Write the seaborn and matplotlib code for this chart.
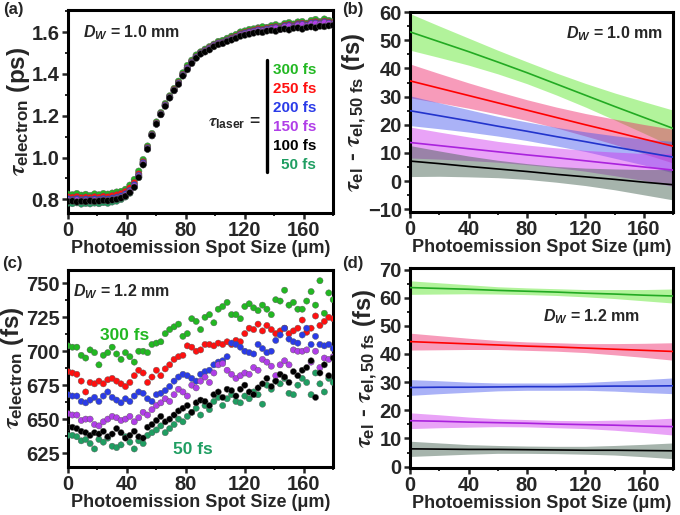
import matplotlib
matplotlib.use("Agg")
import matplotlib.pyplot as plt
import numpy as np
import pandas as pd
import seaborn as sns
from matplotlib.ticker import MultipleLocator, FormatStrFormatter

# ---------------- data ----------------
spot_um = list(range(0, 181, 3))          # photoemission spot size (um)
laser_labels = ["300 fs", "250 fs", "200 fs", "150 fs", "100 fs", "50 fs"]
laser_colors = ["#22b822", "#ff1010", "#2a3be8", "#b03ee8", "#000000", "#1f9e62"]
band_colors = ["#55e622", "#ee2266", "#4455ee", "#d033ee", "#3a5a48", None]
line_colors = ["#22aa22", "#ff0000", "#2233cc", "#aa22dd", "#000000", None]

# panel (a): tau_electron (ps), D_W = 1.0 mm
a_300 = [0.825,0.822,0.828,0.820,0.824,0.818,0.826,0.822,0.828,0.825,0.830,0.835,0.838,0.848,0.868,0.895,0.935,0.990,1.055,1.115,
         1.170,1.215,1.258,1.295,1.330,1.365,1.405,1.440,1.465,1.490,1.505,1.518,1.530,1.542,1.555,1.560,1.570,1.580,1.588,1.600,
         1.605,1.612,1.615,1.620,1.625,1.622,1.630,1.635,1.628,1.640,1.645,1.638,1.648,1.650,1.642,1.655,1.660,1.650,1.662,1.655,1.650]
a_250 = [0.812,0.810,0.814,0.808,0.811,0.809,0.813,0.810,0.815,0.812,0.818,0.822,0.828,0.838,0.855,0.880,0.922,0.980,1.048,1.110,
         1.165,1.210,1.252,1.290,1.325,1.358,1.398,1.430,1.458,1.482,1.500,1.512,1.525,1.538,1.548,1.552,1.562,1.572,1.580,1.592,
         1.598,1.604,1.608,1.615,1.612,1.618,1.622,1.626,1.620,1.632,1.636,1.630,1.640,1.642,1.636,1.646,1.650,1.644,1.652,1.648,1.645]
a_200 = [0.802,0.800,0.803,0.798,0.801,0.799,0.802,0.800,0.804,0.801,0.806,0.810,0.816,0.826,0.843,0.870,0.915,0.975,1.045,1.108,
         1.162,1.208,1.250,1.288,1.322,1.355,1.395,1.428,1.455,1.480,1.498,1.510,1.522,1.536,1.546,1.550,1.560,1.568,1.576,1.588,
         1.594,1.600,1.604,1.610,1.608,1.614,1.618,1.622,1.616,1.628,1.632,1.626,1.636,1.638,1.632,1.642,1.645,1.640,1.648,1.644,1.640]
a_150 = [0.796,0.794,0.797,0.793,0.795,0.792,0.796,0.794,0.798,0.795,0.800,0.804,0.810,0.820,0.838,0.864,0.910,0.970,1.042,1.106,
         1.160,1.206,1.248,1.286,1.320,1.352,1.392,1.425,1.452,1.478,1.496,1.508,1.520,1.534,1.544,1.548,1.558,1.566,1.574,1.585,
         1.590,1.596,1.600,1.606,1.604,1.610,1.614,1.618,1.612,1.624,1.628,1.622,1.632,1.634,1.628,1.638,1.640,1.636,1.644,1.640,1.636]
a_100 = [0.790,0.792,0.788,0.791,0.789,0.793,0.790,0.792,0.795,0.793,0.797,0.800,0.806,0.815,0.832,0.858,0.905,0.965,1.040,1.105,
         1.160,1.205,1.245,1.285,1.320,1.350,1.390,1.420,1.450,1.475,1.495,1.505,1.515,1.530,1.540,1.545,1.555,1.562,1.570,1.580,
         1.585,1.590,1.595,1.600,1.598,1.605,1.608,1.604,1.612,1.615,1.610,1.618,1.620,1.614,1.622,1.625,1.620,1.628,1.626,1.630,1.632]
a_50 = [0.782,0.780,0.784,0.778,0.781,0.779,0.783,0.780,0.785,0.782,0.788,0.792,0.800,0.812,0.830,0.858,0.905,0.968,1.040,1.104,
        1.160,1.206,1.248,1.286,1.322,1.354,1.394,1.428,1.455,1.480,1.498,1.510,1.522,1.536,1.546,1.550,1.560,1.570,1.578,1.590,
        1.596,1.602,1.606,1.612,1.608,1.616,1.620,1.624,1.618,1.630,1.634,1.628,1.638,1.640,1.634,1.644,1.648,1.642,1.650,1.646,1.642]

# panel (c): tau_electron (fs), D_W = 1.2 mm
c_300 = [704,703,703,697,695,701,699,690,697,699,703,698,694,699,696,692,700,700,699,705,706,707,713,716,718,720,711,713,724,722,
         716,725,727,721,731,733,736,727,727,724,733,735,732,730,734,731,727,738,737,745,734,736,731,731,737,744,734,752,728,743,738]
c_250 = [685,684,683,678,670,677,676,678,676,679,680,678,676,674,677,682,686,684,677,681,686,682,687,690,694,696,697,704,703,700,
         701,705,705,704,706,705,707,705,708,707,713,717,716,720,715,719,716,713,715,717,713,715,717,723,714,717,726,719,722,725,724]
c_200 = [668,667,667,663,662,664,666,663,667,670,666,664,662,665,663,667,670,669,665,663,668,669,671,674,678,681,683,682,680,678,
         683,685,686,690,692,693,696,706,705,703,700,699,698,705,702,699,700,708,712,717,709,707,706,712,717,705,711,705,704,705,702]
c_150 = [654,653,653,649,650,650,646,645,648,650,652,651,649,650,652,648,651,655,653,657,660,662,665,663,668,672,670,667,675,673,
         678,681,677,684,690,691,686,683,680,682,684,683,688,686,694,692,689,682,690,693,690,701,700,700,701,692,700,688,695,694,696]
c_100 = [644,644,643,641,640,638,640,639,641,637,639,643,640,636,638,641,637,636,644,646,649,652,648,650,653,656,658,660,655,662,
         664,663,660,668,670,666,672,671,667,672,675,670,668,673,676,680,674,678,683,681,677,685,682,686,688,693,666,684,690,682,695]
c_50 = [638,638,637,634,635,632,628,635,633,636,630,629,631,637,633,628,634,632,638,640,642,645,640,643,646,650,648,652,655,658,
        653,660,657,663,666,660,665,668,663,662,667,665,670,668,661,675,672,678,676,680,669,668,675,680,677,668,684,676,670,680,677]

# panels (b), (d): fitted difference tau_el - tau_el,50fs (fs) and its band half-width
fit_x = [0, 20, 40, 60, 80, 100, 120, 140, 160, 180]
b_300 = [53.0, 49.5, 46.0, 42.3, 38.5, 34.5, 30.5, 26.5, 22.6, 18.7]
b_300_hw = [6.5, 5.6, 4.8, 4.2, 3.9, 3.9, 4.2, 4.8, 5.6, 6.5]
b_250 = [35.6, 33.0, 30.4, 27.8, 25.2, 22.6, 20.0, 17.5, 14.9, 12.4]
b_250_hw = [6.0, 5.2, 4.5, 4.0, 3.7, 3.7, 4.0, 4.5, 5.2, 6.0]
b_200 = [25.0, 23.2, 21.4, 19.5, 17.7, 15.8, 14.0, 12.1, 10.3, 8.5]
b_200_hw = [5.3, 4.6, 4.0, 3.5, 3.3, 3.3, 3.5, 4.0, 4.6, 5.6]
b_150 = [13.7, 12.6, 11.5, 10.4, 9.3, 8.3, 7.2, 6.1, 5.0, 3.9]
b_150_hw = [5.5, 4.8, 4.2, 3.7, 3.5, 3.5, 3.7, 4.2, 4.8, 5.8]
b_100 = [7.1, 6.2, 5.2, 4.3, 3.4, 2.4, 1.5, 0.6, -0.4, -1.3]
b_100_hw = [5.5, 4.5, 3.7, 3.1, 2.8, 2.8, 3.1, 3.7, 4.5, 5.4]

d_300 = [63.6, 63.3, 63.0, 62.6, 62.3, 62.0, 61.6, 61.3, 60.9, 60.6]
d_300_hw = [2.4, 2.0, 1.6, 1.3, 1.2, 1.2, 1.3, 1.6, 2.0, 2.5]
d_250 = [44.4, 44.0, 43.6, 43.2, 42.8, 42.5, 42.1, 41.7, 41.3, 40.9]
d_250_hw = [3.0, 2.5, 2.0, 1.6, 1.5, 1.5, 1.6, 2.0, 2.5, 3.1]
d_200 = [28.1, 28.2, 28.2, 28.3, 28.4, 28.4, 28.5, 28.6, 28.6, 28.7]
d_200_hw = [2.8, 2.3, 1.8, 1.4, 1.3, 1.3, 1.4, 1.8, 2.3, 2.8]
d_150 = [16.3, 16.1, 15.8, 15.6, 15.4, 15.1, 14.9, 14.7, 14.4, 14.2]
d_150_hw = [2.8, 2.3, 1.8, 1.4, 1.3, 1.3, 1.4, 1.8, 2.3, 3.0]
d_100 = [6.3, 6.2, 6.1, 6.1, 6.0, 5.9, 5.8, 5.8, 5.7, 5.6]
d_100_hw = [2.7, 2.2, 1.7, 1.4, 1.3, 1.3, 1.4, 1.7, 2.2, 2.8]

# ---------------- style ----------------
sns.set_theme(style="ticks")
plt.rcParams.update({
    "font.family": ["Liberation Sans", "DejaVu Sans"],
    "font.weight": "bold",
    "axes.labelweight": "bold",
    "mathtext.fontset": "custom",
    "mathtext.rm": "Liberation Sans:bold",
    "mathtext.bf": "Liberation Sans:bold",
    "mathtext.it": "STIXGeneral:italic",
    "mathtext.sf": "Liberation Sans:bold:italic",
    "axes.linewidth": 2.2,
    "axes.edgecolor": "black",
})

fig = plt.figure(figsize=(6.8, 5.15), dpi=100)
ax_a = fig.add_axes([0.100, 0.5864, 0.390, 0.394])
ax_b = fig.add_axes([0.603, 0.5883, 0.387, 0.388])
ax_c = fig.add_axes([0.100, 0.094, 0.390, 0.382])
ax_d = fig.add_axes([0.603, 0.0913, 0.387, 0.388])

draw_order = [5, 0, 1, 2, 3, 4]   # 50 fs first, 100 fs on top

def long_df(series):
    rows = []
    for i in draw_order:
        for xv, yv in zip(spot_um, series[i]):
            rows.append((xv, yv, laser_labels[i]))
    return pd.DataFrame(rows, columns=["x", "y", "laser"])

palette = dict(zip(laser_labels, laser_colors))

df_a = long_df([a_300, a_250, a_200, a_150, a_100, a_50])
sns.scatterplot(data=df_a, x="x", y="y", hue="laser", palette=palette,
                hue_order=[laser_labels[i] for i in draw_order],
                s=22, edgecolor="0.35", linewidth=0.3, legend=False, ax=ax_a, zorder=3)

df_c = long_df([c_300, c_250, c_200, c_150, c_100, c_50])
sns.scatterplot(data=df_c, x="x", y="y", hue="laser", palette=palette,
                hue_order=[laser_labels[i] for i in draw_order],
                s=20, edgecolor="0.35", linewidth=0.3, legend=False, ax=ax_c, zorder=3)

def fit_panel(ax, centers, hws):
    fx = np.array(fit_x, dtype=float)
    for k in range(5):
        c = np.array(centers[k]); h = np.array(hws[k])
        ax.fill_between(fx, c - h, c + h, color=band_colors[k], alpha=0.45, lw=0, zorder=1)
    for k in range(5):
        sns.lineplot(x=fit_x, y=centers[k], color=line_colors[k], lw=1.2, ax=ax, zorder=3)

fit_panel(ax_b, [b_300, b_250, b_200, b_150, b_100], [b_300_hw, b_250_hw, b_200_hw, b_150_hw, b_100_hw])
fit_panel(ax_d, [d_300, d_250, d_200, d_150, d_100], [d_300_hw, d_250_hw, d_200_hw, d_150_hw, d_100_hw])

tick_fs = 14.5
label_fs = 13
ylab_fs = 17.5
for ax in (ax_a, ax_b, ax_c, ax_d):
    ax.set_xlim(0, 180)
    ax.xaxis.set_major_locator(MultipleLocator(40))
    ax.xaxis.set_minor_locator(MultipleLocator(20))
    ax.tick_params(which="major", direction="out", length=4, width=1.8, labelsize=tick_fs, pad=2)
    ax.tick_params(which="minor", direction="out", length=2.5, width=1.4)
    ax.tick_params(top=False, right=False, which="both")
    ax.set_xlabel("Photoemission Spot Size (\u03bcm)", fontsize=label_fs, fontweight="bold", labelpad=0)
    for sp in ax.spines.values():
        sp.set_visible(True)
        sp.set_linewidth(2.2)

ax_a.set_ylim(0.735, 1.705)
ax_a.yaxis.set_major_locator(MultipleLocator(0.2))
ax_a.yaxis.set_minor_locator(MultipleLocator(0.1))
ax_a.yaxis.set_major_formatter(FormatStrFormatter("%.1f"))
ax_a.set_ylabel(r"$\tau_{\rm electron}$ (ps)", fontsize=ylab_fs, labelpad=0)

ax_b.set_ylim(-11, 60)
ax_b.yaxis.set_major_locator(MultipleLocator(10))
ax_b.yaxis.set_minor_locator(MultipleLocator(5))
ax_b.set_ylabel(r"$\tau_{\rm el}$ - $\tau_{\rm el,50\ fs}$ (fs)", fontsize=ylab_fs - 0.5, labelpad=0)

ax_c.set_ylim(615, 760)
ax_c.yaxis.set_major_locator(MultipleLocator(25))
ax_c.yaxis.set_minor_locator(MultipleLocator(12.5))
ax_c.set_ylabel(r"$\tau_{\rm electron}$ (fs)", fontsize=ylab_fs, labelpad=0)

ax_d.set_ylim(-0.5, 70.5)
ax_d.yaxis.set_major_locator(MultipleLocator(10))
ax_d.yaxis.set_minor_locator(MultipleLocator(5))
ax_d.set_ylabel(r"$\tau_{\rm el}$ - $\tau_{\rm el,50\ fs}$ (fs)", fontsize=ylab_fs - 0.5, labelpad=0)

for ax in (ax_a, ax_b, ax_c, ax_d):
    for lab in ax.get_xticklabels() + ax.get_yticklabels():
        lab.set_fontweight("bold")

# annotations
dw_fs = 11.5
ax_a.text(0.057, 0.887, r"$\mathsf{D_W}$ = 1.0 mm", transform=ax_a.transAxes, fontsize=dw_fs,
          fontweight="bold", ha="left", va="center")
ax_b.text(0.962, 0.895, r"$\mathsf{D_W}$ = 1.0 mm", transform=ax_b.transAxes, fontsize=dw_fs,
          fontweight="bold", ha="right", va="center")
ax_c.text(0.019, 0.887, r"$\mathsf{D_W}$ = 1.2 mm", transform=ax_c.transAxes, fontsize=dw_fs,
          fontweight="bold", ha="left", va="center")
ax_d.text(0.506, 0.755, r"$\mathsf{D_W}$ = 1.2 mm", transform=ax_d.transAxes, fontsize=dw_fs,
          fontweight="bold", ha="left", va="center")

# tau_laser legend in (a)
ax_a.plot([0.751, 0.751], [0.202, 0.754], transform=ax_a.transAxes, color="black", lw=2.4, zorder=5)
ax_a.text(0.725, 0.443, r"$\tau_{\rm laser}$ =", transform=ax_a.transAxes, fontsize=12.5,
          fontweight="bold", ha="right", va="center")
leg_y = [0.704, 0.611, 0.517, 0.424, 0.330, 0.236]
for lab, col, yy in zip(laser_labels, laser_colors, leg_y):
    ax_a.text(0.936, yy, lab, transform=ax_a.transAxes, fontsize=11, fontweight="bold",
              color=col, ha="right", va="center")

ax_c.text(0.121, 0.667, "300 fs", transform=ax_c.transAxes, fontsize=12.5, fontweight="bold",
          color=laser_colors[0], ha="left", va="center")
ax_c.text(0.396, 0.087, "50 fs", transform=ax_c.transAxes, fontsize=12.5, fontweight="bold",
          color=laser_colors[5], ha="left", va="center")

# panel letters
for txt, xx, yy in [("(a)", 0.005, 0.997), ("(b)", 0.503, 0.997), ("(c)", 0.003, 0.503), ("(d)", 0.503, 0.503)]:
    fig.text(xx, yy, txt, fontsize=12, fontweight="bold", ha="left", va="top")

fig.savefig("out.png", dpi=100)
